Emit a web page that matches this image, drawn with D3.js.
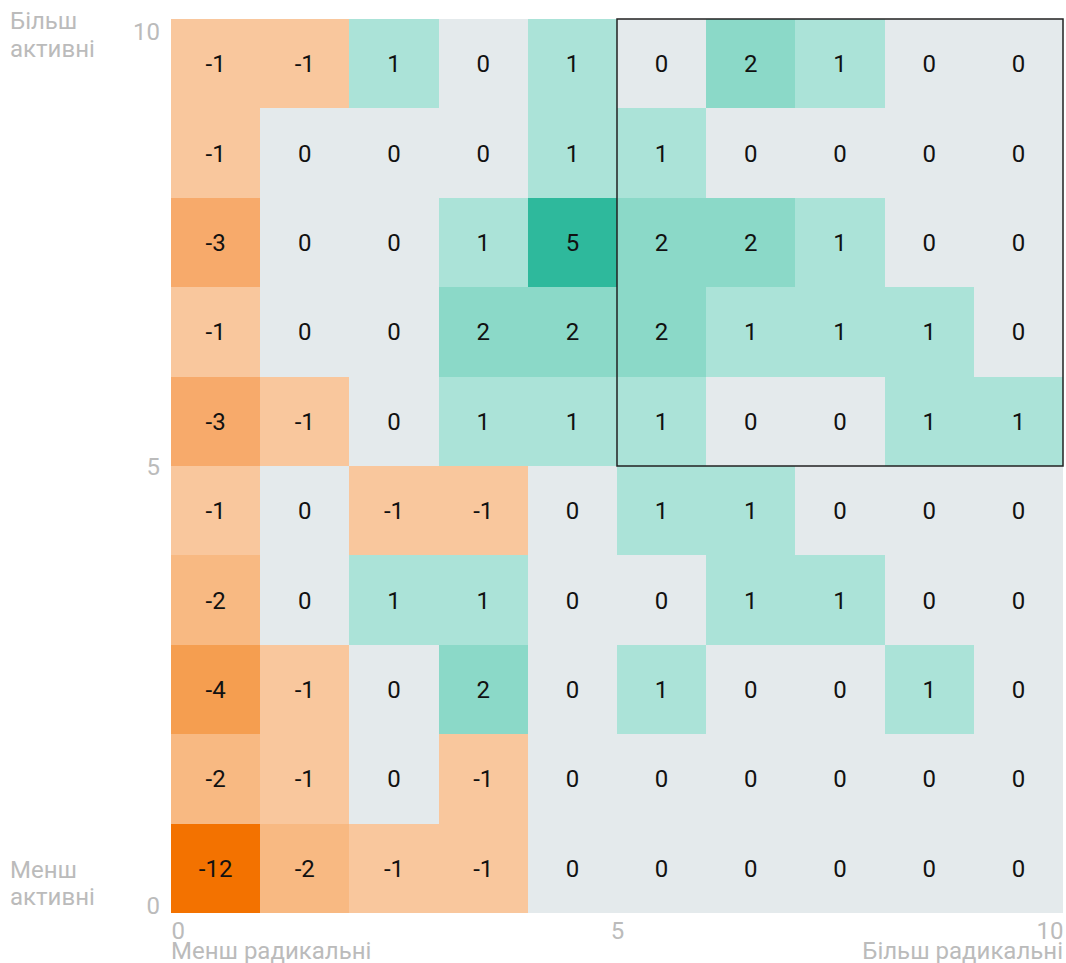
<!DOCTYPE html>
<html>
<head>
<meta charset="utf-8">
<script src="https://cdn.jsdelivr.net/npm/d3@7"></script>
<style>
  body { margin: 0; background: #fff; }
  svg text { font-family: Roboto, "Noto Sans", sans-serif; }
</style>
</head>
<body>
<div id="chart"></div>
<script>

// chart size
var w = 1066;
var h = 963;

// cell values, top row (y 9..10) first, bottom row (y 0..1) last
var row9 = [-1, -1, 1, 0, 1, 0, 2, 1, 0, 0];
var row8 = [-1, 0, 0, 0, 1, 1, 0, 0, 0, 0];
var row7 = [-3, 0, 0, 1, 5, 2, 2, 1, 0, 0];
var row6 = [-1, 0, 0, 2, 2, 2, 1, 1, 1, 0];
var row5 = [-3, -1, 0, 1, 1, 1, 0, 0, 1, 1];
var row4 = [-1, 0, -1, -1, 0, 1, 1, 0, 0, 0];
var row3 = [-2, 0, 1, 1, 0, 0, 1, 1, 0, 0];
var row2 = [-4, -1, 0, 2, 0, 1, 0, 0, 1, 0];
var row1 = [-2, -1, 0, -1, 0, 0, 0, 0, 0, 0];
var row0 = [-12, -2, -1, -1, 0, 0, 0, 0, 0, 0];

var rows = [row9, row8, row7, row6, row5, row4, row3, row2, row1, row0];

var xTicks = [0, 5, 10];
var yTicks = [0, 5, 10];

var xTitles = ["Менш радикальні", "Більш радикальні"];
var yTitlesTop = ["Більш", "активні"];
var yTitlesBottom = ["Менш", "активні"];

// highlighted block [x0, x1, y0, y1]
var highlight = [5, 10, 5, 10];

// colour steps
var colorDomain = [-12, -4, -3, -2, -1, 0, 1, 2, 5];
var colorRange = ["#f37200", "#f59e50", "#f7aa6b", "#f8b982", "#f9c79d",
                  "#e4eaec", "#abe3d8", "#8bd9c8", "#2eb99c"];

// flatten the grid into cells
var cells = [];
rows.forEach(function(r, i) {
  r.forEach(function(v, j) {
    cells.push({x: j, y: rows.length - 1 - i, value: v});
  });
});

var xScale = d3.scaleLinear().domain([0, 10]).range([171, 1063]);
var yScale = d3.scaleLinear().domain([0, 10]).range([913, 19]);
var color = d3.scaleLinear().domain(colorDomain).range(colorRange);

var svg = d3.select("#chart")
            .append("svg")
              .attr("width", w)
              .attr("height", h);

// cells
svg.selectAll("rect.cell")
   .data(cells)
   .enter()
   .append("rect")
   .attr("class", "cell")
   .attr("shape-rendering", "crispEdges")
   .attr("x", function(d) { return xScale(d.x); })
   .attr("y", function(d) { return yScale(d.y + 1); })
   .attr("width", function(d) { return xScale(d.x + 1) - xScale(d.x) + (d.x < 9 ? 1 : 0); })
   .attr("height", function(d) { return yScale(d.y) - yScale(d.y + 1) + (d.y > 0 ? 1 : 0); })
   .attr("fill", function(d) { return color(d.value); });

// cell labels
svg.selectAll("text.val")
   .data(cells)
   .enter()
   .append("text")
   .attr("class", "val")
   .attr("x", function(d) { return xScale(d.x + 0.5); })
   .attr("y", function(d) { return yScale(d.y + 0.5); })
   .attr("dy", "0.35em")
   .attr("text-anchor", "middle")
   .attr("font-size", 24)
   .attr("fill", "#111")
   .text(function(d) { return d.value; });

// highlight box
svg.append("rect")
   .attr("x", xScale(highlight[0]))
   .attr("y", yScale(highlight[3]))
   .attr("width", xScale(highlight[1]) - xScale(highlight[0]))
   .attr("height", yScale(highlight[2]) - yScale(highlight[3]))
   .attr("fill", "none")
   .attr("stroke", "#222")
   .attr("stroke-width", 1.5);

// axes
var x_axis = d3.axisBottom(xScale).tickValues(xTicks).tickSize(0).tickPadding(9);
var y_axis = d3.axisLeft(yScale).tickValues(yTicks).tickSize(0).tickPadding(11);

var gx = svg.append("g")
   .attr("transform", "translate(0," + yScale(0) + ")")
   .call(x_axis);
gx.select(".domain").remove();
gx.selectAll("text")
  .attr("font-size", 24)
  .attr("fill", "#bbb")
  .attr("text-anchor", function(d) {
    return d === 0 ? "start" : (d === 10 ? "end" : "middle");
  });

var gy = svg.append("g")
   .attr("transform", "translate(" + xScale(0) + ",0)")
   .call(y_axis);
gy.select(".domain").remove();
gy.selectAll("text")
  .attr("font-size", 24)
  .attr("fill", "#bbb")
  .attr("dy", function(d) {
    return d === 0 ? "0em" : (d === 10 ? "0.85em" : "0.35em");
  });

// axis titles
svg.append("text")
   .attr("x", xScale(0))
   .attr("y", 959)
   .attr("font-size", 24)
   .attr("fill", "#bbb")
   .text(xTitles[0]);

svg.append("text")
   .attr("x", xScale(10))
   .attr("y", 959)
   .attr("text-anchor", "end")
   .attr("font-size", 24)
   .attr("fill", "#bbb")
   .text(xTitles[1]);

svg.append("text")
   .attr("x", 10)
   .attr("y", 29)
   .attr("font-size", 24)
   .attr("fill", "#bbb")
   .selectAll("tspan")
   .data(yTitlesTop)
   .enter()
   .append("tspan")
   .attr("x", 10)
   .attr("dy", function(d, i) { return i ? 28 : 0; })
   .text(function(d) { return d; });

svg.append("text")
   .attr("x", 10)
   .attr("y", 878)
   .attr("font-size", 24)
   .attr("fill", "#bbb")
   .selectAll("tspan")
   .data(yTitlesBottom)
   .enter()
   .append("tspan")
   .attr("x", 10)
   .attr("dy", function(d, i) { return i ? 27 : 0; })
   .text(function(d) { return d; });

</script>
</body>
</html>
